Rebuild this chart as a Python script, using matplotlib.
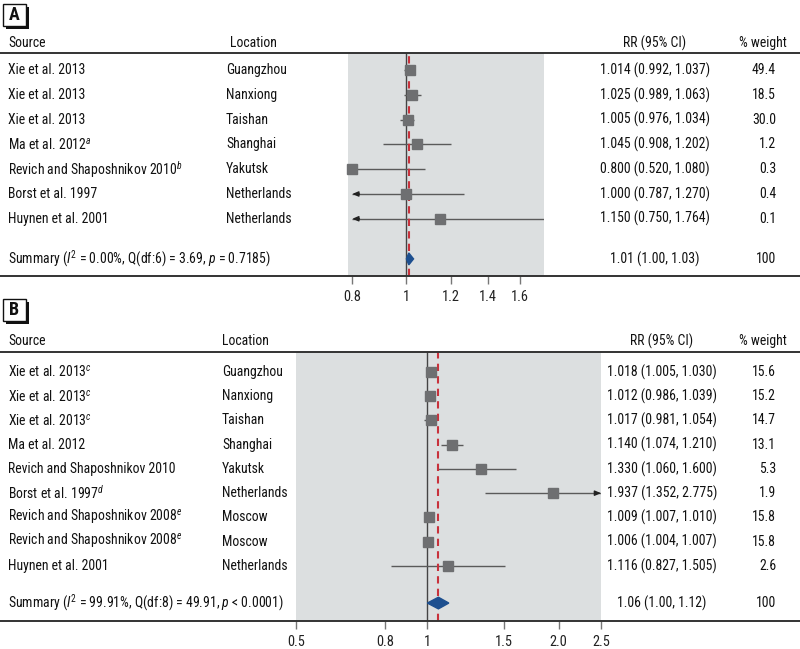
import matplotlib
matplotlib.use('Agg')
import matplotlib.pyplot as plt
from matplotlib.transforms import blended_transform_factory
from matplotlib.patches import Rectangle, Polygon
from matplotlib.lines import Line2D

plt.rcParams['font.family'] = ['Roboto Condensed', 'DejaVu Sans']
plt.rcParams['mathtext.fontset'] = 'custom'
plt.rcParams['mathtext.rm'] = 'Roboto Condensed'
plt.rcParams['mathtext.it'] = 'Roboto Condensed:italic'

# ---------------- data ----------------
a_sources = ["Xie et al. 2013", "Xie et al. 2013", "Xie et al. 2013",
             r"Ma et al. 2012$^{a}$", r"Revich and Shaposhnikov 2010$^{b}$",
             "Borst et al. 1997", "Huynen et al. 2001"]
a_locations = ["Guangzhou", "Nanxiong", "Taishan", "Shanghai", "Yakutsk",
               "Netherlands", "Netherlands"]
a_rr = [1.014, 1.025, 1.005, 1.045, 0.800, 1.000, 1.150]
a_lo = [0.992, 0.989, 0.976, 0.908, 0.520, 0.787, 0.750]
a_hi = [1.037, 1.063, 1.034, 1.202, 1.080, 1.270, 1.764]
a_weight = ["49.4", "18.5", "30.0", "1.2", "0.3", "0.4", "0.1"]
a_summary = (1.01, 1.00, 1.03)
a_summary_label = r"Summary ($I^2$ = 0.00%, Q(df:6) = 3.69, $p$ = 0.7185)"
a_ticks = [0.8, 1, 1.2, 1.4, 1.6]
a_ticklabels = ["0.8", "1", "1.2", "1.4", "1.6"]

b_sources = [r"Xie et al. 2013$^{c}$", r"Xie et al. 2013$^{c}$", r"Xie et al. 2013$^{c}$",
             "Ma et al. 2012", "Revich and Shaposhnikov 2010", r"Borst et al. 1997$^{d}$",
             r"Revich and Shaposhnikov 2008$^{e}$", r"Revich and Shaposhnikov 2008$^{e}$",
             "Huynen et al. 2001"]
b_locations = ["Guangzhou", "Nanxiong", "Taishan", "Shanghai", "Yakutsk",
               "Netherlands", "Moscow", "Moscow", "Netherlands"]
b_rr = [1.018, 1.012, 1.017, 1.140, 1.330, 1.937, 1.009, 1.006, 1.116]
b_lo = [1.005, 0.986, 0.981, 1.074, 1.060, 1.352, 1.007, 1.004, 0.827]
b_hi = [1.030, 1.039, 1.054, 1.210, 1.600, 2.775, 1.010, 1.007, 1.505]
b_weight = ["15.6", "15.2", "14.7", "13.1", "5.3", "1.9", "15.8", "15.8", "2.6"]
b_summary = (1.06, 1.00, 1.12)
b_summary_label = r"Summary ($I^2$ = 99.91%, Q(df:8) = 49.91, $p$ < 0.0001)"
b_ticks = [0.5, 0.8, 1, 1.5, 2.0, 2.5]
b_ticklabels = ["0.5", "0.8", "1", "1.5", "2.0", "2.5"]

# ---------------- style ----------------
W, H = 800, 649
FS = 9.9
SHADE = '#dcdfe0'
SQ = '#6e6f71'
CI = '#5a5a5a'
RED = '#c8323c'
BLUE = '#1d4f8f'
LINE = '#333333'

fig = plt.figure(figsize=(W / 100, H / 100), dpi=100)


def fx(px):
    return px / W


def panel(rect_px, xlim, ylim, sources, locations, rr, lo, hi, weights, summary,
          summary_label, ticks, ticklabels, sum_row, header_row, loc_x, loc_hdr_x,
          rr_x, clip_lo, clip_hi, label, label_px, dh):
    x0, y0, x1, y1 = rect_px
    ax = fig.add_axes([fx(x0), 1 - y1 / H, (x1 - x0) / W, (y1 - y0) / H])
    ax.set_xscale('log')
    ax.set_xlim(*xlim)
    ax.set_ylim(*ylim)
    ax.set_facecolor(SHADE)
    for s in ax.spines.values():
        s.set_visible(False)
    ax.set_yticks([])
    ax.set_xticks(ticks)
    ax.set_xticklabels(ticklabels)
    ax.minorticks_off()
    ax.tick_params(axis='x', direction='out', length=6, width=1, color='#777777',
                   labelsize=FS + 0.5, pad=4, labelcolor='#222222')

    # reference line at 1 and dashed summary line
    ax.axvline(1, color='#444444', lw=1.0, zorder=2)
    ax.axvline(summary[0], color=RED, lw=1.5, ls=(0, (3.5, 2.5)), zorder=4)

    rows = list(range(len(rr)))
    for i in rows:
        l = max(lo[i], clip_lo)
        h = min(hi[i], clip_hi)
        ax.plot([l, h], [i, i], color=CI, lw=1.0, zorder=3, solid_capstyle='butt')
        if lo[i] < clip_lo and rr[i] > clip_lo:
            ax.annotate('', xy=(clip_lo, i), xytext=(clip_lo * 1.03, i),
                        arrowprops=dict(arrowstyle='-|>,head_length=0.35,head_width=0.15',
                                        color='#222222', lw=1.0, shrinkA=0, shrinkB=0),
                        zorder=3)
        if hi[i] > clip_hi and rr[i] < clip_hi:
            ax.annotate('', xy=(clip_hi, i), xytext=(clip_hi / 1.03, i),
                        arrowprops=dict(arrowstyle='-|>,head_length=0.35,head_width=0.15',
                                        color='#222222', lw=1.0, shrinkA=0, shrinkB=0),
                        zorder=3)
    ax.plot(rr, rows, 's', color=SQ, ms=6.8, mec=SQ, zorder=5, clip_on=False)

    est, slo, shi = summary
    ax.add_patch(Polygon([(slo, sum_row), (est, sum_row - dh), (shi, sum_row),
                          (est, sum_row + dh)], closed=True, color=BLUE, zorder=6))

    tr = blended_transform_factory(fig.transFigure, ax.transData)
    tra = blended_transform_factory(fig.transFigure, ax.transAxes)

    # header
    kw = dict(transform=tr, fontsize=FS, va='center', color='#111111')
    fig.text(fx(8), header_row, "Source", ha='left', **kw)
    fig.text(fx(loc_hdr_x), header_row, "Location", ha='left', **kw)
    fig.text(fx(rr_x), header_row, "RR (95% CI)", ha='center', **kw)
    fig.text(fx(787), header_row, "% weight", ha='right', **kw)

    for i in rows:
        fig.text(fx(8), i, sources[i], ha='left', **kw)
        fig.text(fx(loc_x), i, locations[i], ha='left', **kw)
        fig.text(fx(rr_x), i, f"{rr[i]:.3f} ({lo[i]:.3f}, {hi[i]:.3f})", ha='center', **kw)
        fig.text(fx(776), i, weights[i], ha='right', **kw)
    fig.text(fx(8), sum_row, summary_label, ha='left', **kw)
    fig.text(fx(rr_x), sum_row, f"{est:.2f} ({slo:.2f}, {shi:.2f})", ha='center', **kw)
    fig.text(fx(776), sum_row, "100", ha='right', **kw)

    # full-width rules
    for yy in (0, 1):
        fig.add_artist(Line2D([0, 1], [yy, yy], transform=tra, color=LINE, lw=1.4))

    # panel label box with shadow
    bx, by, bw, bh = label_px
    fig.add_artist(Rectangle((fx(bx + 3), 1 - (by + bh + 3) / H), bw / W, bh / H,
                             transform=fig.transFigure, facecolor='#111111',
                             edgecolor='#111111', lw=0))
    fig.add_artist(Rectangle((fx(bx), 1 - (by + bh) / H), bw / W, bh / H,
                             transform=fig.transFigure, facecolor='white',
                             edgecolor='#111111', lw=1.0))
    fig.text(fx(bx + bw / 2), 1 - (by + bh / 2) / H, label, ha='center', va='center',
             fontsize=13, fontweight='bold', color='#111111')
    return ax


panel((348, 53, 544, 276), (0.786, 1.764), (8.31, -0.69),
      a_sources, a_locations, a_rr, a_lo, a_hi, a_weight, a_summary, a_summary_label,
      a_ticks, a_ticklabels, sum_row=7.62, header_row=-1.09, loc_x=226, loc_hdr_x=230,
      rr_x=655, clip_lo=0.8, clip_hi=10, label="A", label_px=(3, 4, 23, 22), dh=0.24)

panel((296, 352, 601, 621), (0.5, 2.5), (10.27, -0.82),
      b_sources, b_locations, b_rr, b_lo, b_hi, b_weight, b_summary, b_summary_label,
      b_ticks, b_ticklabels, sum_row=9.53, header_row=-1.28, loc_x=222, loc_hdr_x=222,
      rr_x=662, clip_lo=0.0, clip_hi=2.5, label="B", label_px=(3, 299, 23, 22), dh=0.24)

fig.savefig('out.png', dpi=100)
